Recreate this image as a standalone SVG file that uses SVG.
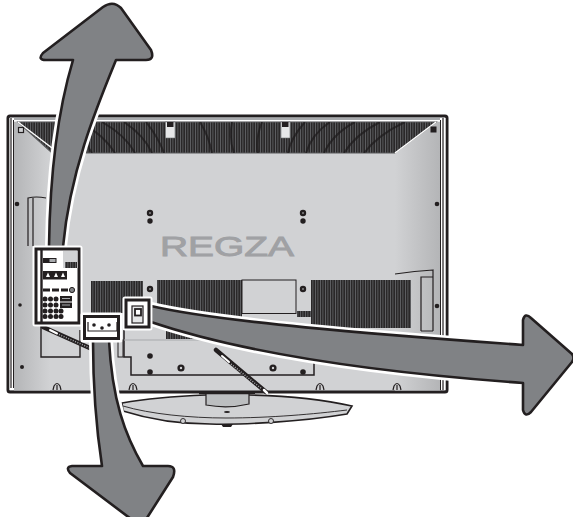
<svg xmlns="http://www.w3.org/2000/svg" width="573" height="517" viewBox="0 0 573 517">
<style>
.ln{fill:none;stroke:#231f20;stroke-width:1.2}
.vent{fill:url(#stripes)}
.dot{fill:#231f20}
.ring{fill:#d1d2d4;stroke:#231f20;stroke-width:2.4}
.halo{fill:none;stroke:#fff;stroke-width:8;stroke-linejoin:round}
.arrow{fill:#808285;stroke:#231f20;stroke-width:2.6;stroke-linejoin:round}
.boxhalo{fill:#fff;stroke:#fff;stroke-width:5;stroke-linejoin:round}
.hook{fill:#d1d2d4;stroke:#231f20;stroke-width:1.2}
.cable{fill:none;stroke-linecap:round}
</style>
<defs>
<pattern id="stripes" width="2.500" height="6" patternUnits="userSpaceOnUse">
<rect width="2.500" height="6" fill="#2a2829"/>
<rect x="0" width=".7" height="6" fill="#6d6e71"/>
</pattern>
<linearGradient id="gl" x1="0" x2="1" y1="0" y2="0">
<stop offset="0" stop-color="#b4b5b7"/>
<stop offset="1" stop-color="#d1d2d4"/>
</linearGradient>
<linearGradient id="gr" x1="0" x2="1" y1="0" y2="0">
<stop offset="0" stop-color="#d1d2d4"/>
<stop offset="1" stop-color="#b4b5b7"/>
</linearGradient>
<clipPath id="grillclip"><path d="M18,122 L436,122 L395,153 L52,153 Z"/></clipPath>
<path id="a1" d="M73,60 L46,60 Q37,60 43,53 L103,7 Q113,0 121,8 L151,50 Q155,60 146,60 L116,60 C98,104 70,170 63,247 L49,247 C50,170 58,110 73,60 Z"/>
<path id="a2" d="M151,306 C220,322 370,334 523,345 L523,320 Q525,312 531,318 L572,354 Q575,358 572,362 L531,412 Q525,418 523,410 L523,383 C370,372 240,352 151,322 Z"/>
<path id="a3" d="M93,340 C93,400 98,440 102,466 L72,466 Q65,467 70,473 L135,522 Q141,526 145,521 L173,477 Q177,466 168,466 L143,466 C125,435 112,400 109,340 Z"/>
</defs>

<g id="tv-back">
<rect x="8" y="116" width="439" height="276" rx="2" fill="#d1d2d4" stroke="#231f20" stroke-width="3"/>
<rect x="10" y="117.500" width="435" height="2.500" fill="#a7a9ac"/>
<rect x="10" y="120" width="435" height="1.500" fill="#fff"/>
<rect x="9.500" y="118" width="4.500" height="272" fill="#fff"/>
<line x1="11" y1="118" x2="11" y2="388" stroke="#231f20" stroke-width="1.200"/>
<line x1="13.500" y1="120" x2="13.500" y2="388" stroke="#231f20" stroke-width="1"/>
<rect x="14" y="122" width="36" height="268.500" fill="url(#gl)"/>
<rect x="395" y="122" width="45" height="268.500" fill="url(#gr)"/>
<rect x="440" y="118" width="5.500" height="272" fill="#fff"/>
<line x1="440.500" y1="120" x2="440.500" y2="390" stroke="#231f20" stroke-width="1"/>
<line x1="443" y1="118" x2="443" y2="390" stroke="#231f20" stroke-width="1.200"/>
</g>

<g id="grille">
<path d="M18,122 L436,122 L395,153 L52,153 Z" class="vent" stroke="#58595b" stroke-width="1.200"/>
<g clip-path="url(#grillclip)" fill="none" stroke="#1c1a1b" stroke-width="2" opacity=".7">
<path d="M60,122 C75,130 85,140 92,153 M80,122 C95,130 107,140 115,153 M102,122 C116,130 128,140 135,153 M124,122 C136,130 146,140 152,153 M146,122 C154,132 160,142 164,153 M200,122 C206,132 210,142 212,153 M232,122 C230,132 230,142 234,153 M262,122 C258,132 256,142 258,153 M305,122 C296,132 290,142 288,153 M330,122 C318,130 310,140 306,153 M355,122 C340,130 330,140 324,153 M380,122 C364,130 352,140 344,153 M405,122 C388,130 374,140 364,153"/>
</g>
<path d="M18,122 L52,148" fill="none" stroke="#fff" stroke-width="1.500"/>
<path d="M436,122 L395,153" fill="none" stroke="#fff" stroke-width="1.500"/>
</g>

<g id="brackets">
<rect x="165.500" y="122" width="9.500" height="16" fill="#e6e7e8" stroke="#6d6e71" stroke-width=".6"/>
<rect x="167" y="122" width="6.500" height="5" fill="#231f20"/>
<rect x="281" y="122" width="9" height="16" fill="#e6e7e8" stroke="#6d6e71" stroke-width=".6"/>
<rect x="282" y="122" width="6.500" height="5" fill="#231f20"/>
<rect x="18.500" y="127.500" width="5" height="5" fill="#d1d2d4" stroke="#231f20" stroke-width="1.200"/>
<rect x="431" y="127" width="5" height="5" fill="#231f20" stroke="#231f20"/>
<path class="ln" d="M28,246 L28,198 Q36,196 46,198 M33,198 L33,246"/>
<path class="ln" d="M395,274 Q415,271 433,270 L433,331 M421,331 L421,277 L433,277 M421,331 L433,331"/>
</g>

<g id="screws">
<circle class="dot" cx="17" cy="204" r="2.300"/>
<circle class="dot" cx="437" cy="204" r="2.300"/>
<circle class="dot" cx="20" cy="305" r="1.800"/>
<circle class="dot" cx="437" cy="306" r="2.300"/>
<circle class="dot" cx="22" cy="367" r="2"/>
<circle class="ring" cx="150" cy="213" r="2"/>
<circle class="dot" cx="150" cy="221" r="2.700"/>
<circle class="ring" cx="303" cy="213" r="2"/>
<circle class="dot" cx="303" cy="221" r="2.700"/>
<circle class="ring" cx="150" cy="289" r="2"/>
<circle class="ring" cx="303" cy="289" r="2"/>
</g>

<text id="logo" x="160" y="256" font-family="'Liberation Sans',sans-serif" font-size="28" fill="#a0a1a4" stroke="#a0a1a4" stroke-width=".9" textLength="134" lengthAdjust="spacingAndGlyphs">REGZA</text>

<g id="vents">
<rect class="vent" x="91" y="281" width="52" height="32"/>
<rect class="vent" x="157" y="280" width="85" height="38"/>
<rect class="vent" x="311" y="280" width="100" height="48"/>
<rect class="vent" x="297" y="311" width="23" height="6"/>
<rect class="vent" x="166" y="330" width="45" height="9"/>
<rect x="242" y="280" width="54" height="33.500" fill="#d1d2d4" stroke="#231f20" stroke-width="1"/>
</g>

<g id="lower-panel">
<path d="M41,324 L41,357 L80,357 L80,330" fill="none" stroke="#231f20" stroke-width="1.400"/>
<path d="M124,330 L124,357 L131,357 L131,375 L314,375 L314,340" fill="none" stroke="#231f20" stroke-width="1.500"/>
<path d="M124,340 L314,340" fill="none" stroke="#a7a9ac" stroke-width="1"/>
<rect x="268" y="351" width="28" height="1.500" fill="#231f20"/>
<rect x="118" y="340" width="5" height="17" fill="#d1d2d4" stroke="#231f20" stroke-width="1"/>
<circle class="dot" cx="150" cy="356" r="2.800"/>
<circle class="dot" cx="150" cy="372" r="2.800"/>
<circle class="ring" cx="181" cy="368" r="2.400"/>
<circle class="ring" cx="273" cy="368" r="2.400"/>
<circle class="dot" cx="303" cy="372" r="2.800"/>
<circle class="dot" cx="303" cy="357" r="2.500"/>
</g>

<g id="hooks">
<path class="hook" d="M53,390 L54,386 Q57,381 60,386 L61,390 M57,385 L57,390"/>
<path class="hook" d="M129,390 L130,386 Q133,381 136,386 L137,390 M133,385 L133,390"/>
<path class="hook" d="M316,390 L317,386 Q320,381 323,386 L324,390 M320,385 L320,390"/>
<path class="hook" d="M393,390 L394,386 Q397,381 400,386 L401,390 M397,385 L397,390"/>
</g>

<g id="stand">
<path d="M122,403 C150,398 180,396 206,395 L249,395 C290,396 325,400 352,406 L347,414 C300,422 240,425 210,424 C175,424 145,418 123,411 Z" fill="#d1d2d4" stroke="#231f20" stroke-width="1.600"/>
<path d="M123,406 C150,414 190,418 226,418 C270,418 315,414 347,410" fill="none" stroke="#231f20" stroke-width=".9"/>
<path d="M206,393 L249,393 L249,404 Q228,409 206,405 Z" fill="#bcbec0" stroke="#231f20" stroke-width="1.200"/>
<path d="M199,393 L255,393" stroke="#231f20" stroke-width="2.400"/>
<ellipse cx="227" cy="412" rx="3" ry="1" fill="#231f20"/>
<path d="M221,424 L233,424 L231,427 L223,427 Z" fill="#231f20"/>
<circle cx="183" cy="421" r="2.500" fill="#d1d2d4" stroke="#231f20" stroke-width=".9"/>
<circle cx="271" cy="421" r="2.500" fill="#d1d2d4" stroke="#231f20" stroke-width=".9"/>
</g>

<g id="cables">
<g class="cable">
<path d="M216,350 L266,392" stroke="#231f20" stroke-width="4.500"/>
<path d="M222,356 L229,362" stroke="#fff" stroke-width="2"/>
<path d="M231,364 L262,389" stroke="#a7a9ac" stroke-width="1.500" stroke-dasharray="1 1.500" stroke-linecap="butt"/>
<path d="M264,390 L267,393" stroke="#fff" stroke-width="2.500"/>
<path d="M43,327 L92,349" stroke="#231f20" stroke-width="4.500"/>
<path d="M50,330 L57,333.500" stroke="#fff" stroke-width="2"/>
<path d="M59,334.500 L90,348" stroke="#a7a9ac" stroke-width="1.500" stroke-dasharray="1 1.500" stroke-linecap="butt"/>
</g>
</g>

<g id="connectors">
<use href="#a1" class="halo"/>
<use href="#a2" class="halo"/>
<use href="#a3" class="halo"/>
<use href="#a1" class="arrow"/>
<use href="#a2" class="arrow"/>
<use href="#a3" class="arrow"/>
</g>

<g id="panel-left">
<rect class="boxhalo" x="35" y="248" width="45" height="76"/>
<rect x="36" y="249" width="43" height="74" fill="#fff" stroke="#231f20" stroke-width="3"/>
<line x1="41.500" y1="248" x2="41.500" y2="324" stroke="#231f20" stroke-width="2.400"/>
<rect x="63" y="251" width="14.500" height="17" fill="#d1d2d4"/>
<rect class="vent" x="65" y="262" width="12" height="6"/>
<rect x="43" y="258" width="6" height="5" fill="#231f20"/>
<rect x="49" y="258.500" width="7" height="4" fill="#a7a9ac" stroke="#231f20"/>
<rect x="43" y="271" width="24" height="8.500" fill="#231f20"/>
<path d="M46,277 L48,272.500 L50,277 Z M54,277 L56,272.500 L58,277 Z M61,277 L63,272.500 L65,277 Z" fill="#fff"/>
<rect x="43" y="288.500" width="7" height="3" fill="#231f20"/>
<rect x="52" y="288.500" width="7" height="3" fill="#231f20"/>
<rect x="61" y="288.500" width="7" height="3" fill="#231f20"/>
<circle cx="72" cy="290" r="2.600" fill="#808285" stroke="#231f20" stroke-width="1"/>
<g fill="#231f20">
<circle cx="45" cy="299" r="2.500"/><circle cx="50.500" cy="299" r="2.500"/><circle cx="56" cy="299" r="2.500"/>
<circle cx="45" cy="305" r="2.500"/><circle cx="50.500" cy="305" r="2.500"/><circle cx="56" cy="305" r="2.500"/>
<circle cx="45" cy="311" r="2.500"/><circle cx="50.500" cy="311" r="2.500"/><circle cx="56" cy="311" r="2.500"/><circle cx="61" cy="311" r="2.500"/>
<circle cx="45" cy="316.500" r="2.500"/><circle cx="50.500" cy="316.500" r="2.500"/><circle cx="56" cy="316.500" r="2.500"/><circle cx="61" cy="316.500" r="2.500"/>
<rect x="60" y="296" width="12" height="5.500"/>
<rect x="60" y="302.500" width="12" height="5.500"/>
</g>
<rect x="62" y="298" width="8" height="1" fill="#a7a9ac"/>
<rect x="62" y="304.500" width="8" height="1" fill="#a7a9ac"/>
</g>

<g id="panel-bottom">
<rect class="boxhalo" x="83" y="315" width="37" height="25"/>
<rect x="84.500" y="316.500" width="34" height="22" fill="#fff" stroke="#231f20" stroke-width="3"/>
<rect x="88" y="322" width="29" height="9" fill="#fff"/>
<path d="M88,322 L88,331 L117,331 L117,322" fill="none" stroke="#231f20" stroke-width="1.200"/>
<circle class="dot" cx="94" cy="325" r="1.800"/>
<circle class="dot" cx="102" cy="328" r="1.800"/>
<circle class="dot" cx="109" cy="325" r="1.800"/>
</g>

<g id="panel-power">
<rect class="boxhalo" x="125" y="299" width="25" height="29"/>
<rect x="126" y="300" width="23" height="27" fill="#fff" stroke="#231f20" stroke-width="3"/>
<rect x="132" y="306" width="11" height="17" fill="#e6e7e8" stroke="#231f20" stroke-width="1.200"/>
<rect x="135" y="309" width="6" height="6.500" fill="#fff" stroke="#231f20" stroke-width="1.800"/>
</g>
</svg>
